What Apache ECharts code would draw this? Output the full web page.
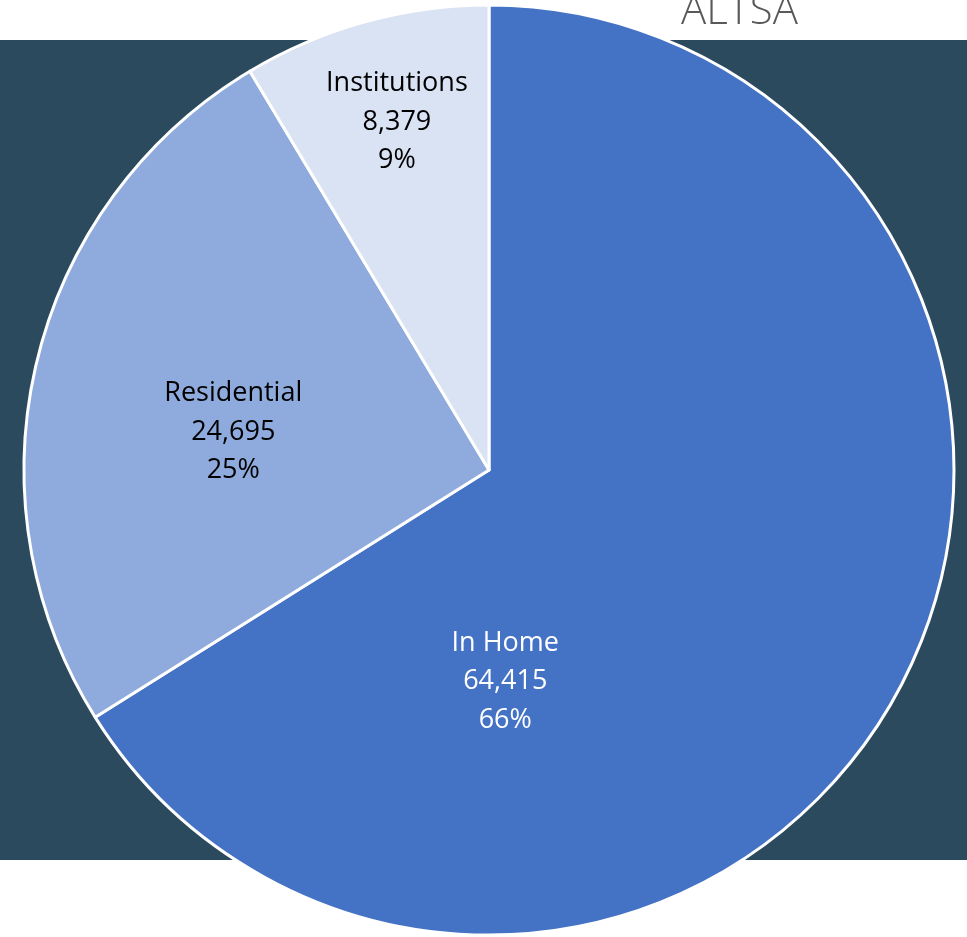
<!DOCTYPE html>
<html>
<head>
<meta charset="utf-8">
<script src="https://cdn.jsdelivr.net/npm/echarts@6/dist/echarts.min.js"></script>
<style>
  html, body { margin: 0; padding: 0; background: #ffffff; }
  #chart { width: 967px; height: 937px; }
</style>
</head>
<body>
<div id="chart"></div>
<script>
// Care setting breakdown
const categories = ['In Home', 'Residential', 'Institutions'];
const clientCounts = [64415, 24695, 8379];
const sliceColors = ['#4472C4', '#8FAADC', '#DAE3F3'];
const labelColors = ['#ffffff', '#000000', '#000000'];

// Label anchor offsets relative to the pie centre, as fractions of the radius
const labelAnchors = [[0.035, 0.455], [-0.55, -0.082], [-0.198, -0.748]];

const CX = 489, CY = 470, R = 465;

const total = clientCounts.reduce((a, b) => a + b, 0);
const fmt = n => n.toLocaleString('en-US');

const chart = echarts.init(document.getElementById('chart'), null, { renderer: 'canvas' });

chart.setOption({
  backgroundColor: '#ffffff',
  animation: false,
  graphic: [
    {
      type: 'rect',
      z: -10,
      shape: { x: 0, y: 40, width: 967, height: 820 },
      style: { fill: '#2B4A5E' }
    },
    {
      type: 'text',
      z: 10,
      left: 681,
      top: -9,
      style: {
        text: 'ALTSA',
        fontFamily: 'Open Sans',
        fontWeight: 300,
        fontSize: 42,
        fill: '#595959'
      }
    }
  ],
  series: [{
    type: 'pie',
    center: [CX, CY],
    radius: R,
    startAngle: 90,
    clockwise: true,
    avoidLabelOverlap: false,
    itemStyle: { borderColor: '#ffffff', borderWidth: 3 },
    label: {
      show: true,
      position: 'inside',
      fontFamily: 'Open Sans',
      fontSize: 27,
      lineHeight: 38.5,
      align: 'center',
      formatter: p => p.name + '\n' + fmt(p.value) + '\n' + Math.round(p.value / total * 100) + '%'
    },
    labelLine: { show: false },
    labelLayout: params => {
      const a = labelAnchors[params.dataIndex];
      return { x: CX + a[0] * R, y: CY + a[1] * R, align: 'center', verticalAlign: 'middle' };
    },
    emphasis: { disabled: true },
    data: categories.map((name, i) => ({
      name,
      value: clientCounts[i],
      itemStyle: { color: sliceColors[i] },
      label: { color: labelColors[i] }
    }))
  }]
});
</script>
</body>
</html>
